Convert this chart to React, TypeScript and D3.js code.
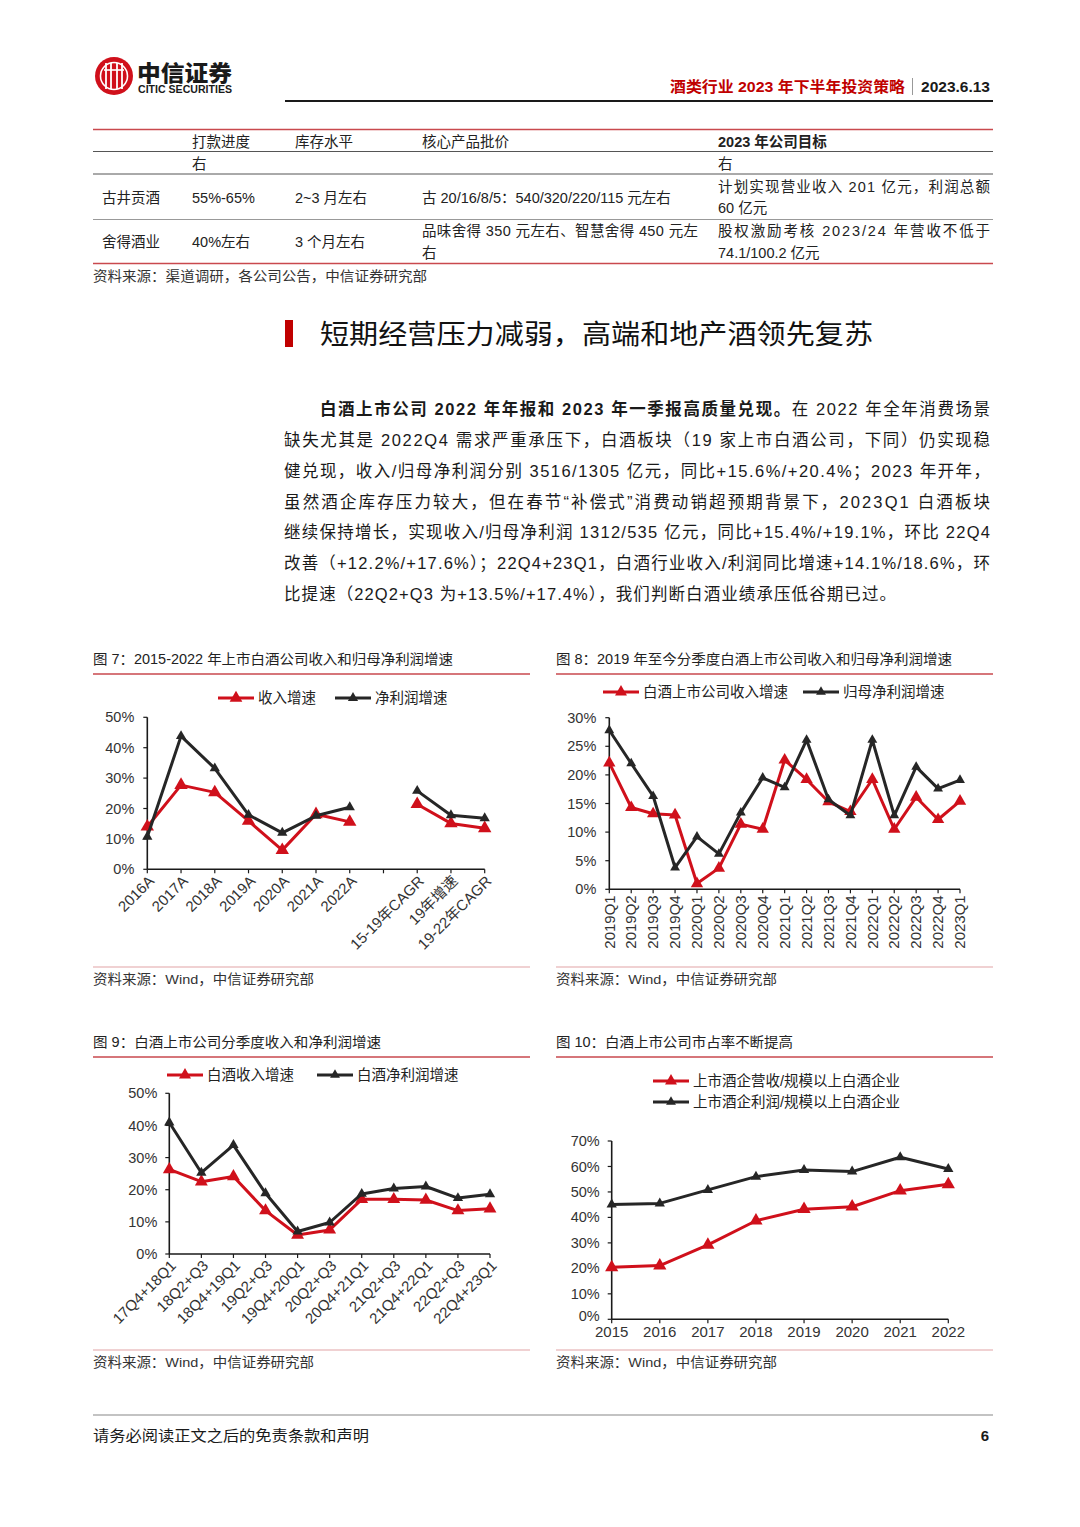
import React from 'react';
import * as d3 from 'd3';

const FONT = "'Liberation Sans', Arial, 'Noto Sans CJK SC', sans-serif";
const CJK = "'Noto Sans CJK SC', 'Liberation Sans', sans-serif";
const RED = '#d0101b';
const DARK = '#262626';
const TXT = '#222';

// ---- chart 7 ----
const c7Cats = ['2016A', '2017A', '2018A', '2019A', '2020A', '2021A', '2022A', '', '15-19年CAGR', '19年增速', '19-22年CAGR'];
const c7Rev = [14.0, 27.7, 25.3, 15.9, 6.3, 18.1, 15.6, null, 21.4, 15.1, 13.5];
const c7Profit = [10.7, 43.8, 33.2, 17.9, 12.0, 17.6, 20.4, null, 25.8, 17.8, 16.8];

// ---- chart 8 ----
const c8Cats = ['2019Q1', '2019Q2', '2019Q3', '2019Q4', '2020Q1', '2020Q2', '2020Q3', '2020Q4', '2021Q1', '2021Q2', '2021Q3', '2021Q4', '2022Q1', '2022Q2', '2022Q3', '2022Q4', '2023Q1'];
const c8Rev = [22.1, 14.3, 13.2, 13.0, 1.0, 3.7, 11.4, 10.5, 22.6, 19.2, 15.3, 13.6, 19.2, 10.5, 16.1, 12.2, 15.4];
const c8Profit = [27.8, 22.0, 16.3, 3.8, 9.2, 6.2, 13.4, 19.5, 17.8, 26.1, 15.7, 12.9, 26.1, 12.9, 21.4, 17.6, 19.1];

// ---- chart 9 ----
const c9Cats = ['17Q4+18Q1', '18Q2+Q3', '18Q4+19Q1', '19Q2+Q3', '19Q4+20Q1', '20Q2+Q3', '20Q4+21Q1', '21Q2+Q3', '21Q4+22Q1', '22Q2+Q3', '22Q4+23Q1'];
const c9Rev = [26.3, 22.5, 24.1, 13.5, 5.9, 7.5, 17.0, 17.0, 16.8, 13.5, 14.1];
const c9Profit = [40.9, 25.3, 33.9, 18.9, 7.0, 9.8, 18.7, 20.4, 21.0, 17.4, 18.6];

// ---- chart 10 ----
const c10Cats = ['2015', '2016', '2017', '2018', '2019', '2020', '2021', '2022'];
const c10Rev = [20.4, 21.1, 29.2, 38.7, 43.2, 44.2, 50.5, 53.0];
const c10Profit = [45.1, 45.5, 50.8, 56.0, 58.6, 58.0, 63.6, 59.0];

const paraLines = [
  '缺失尤其是 2022Q4 需求严重承压下，白酒板块（19 家上市白酒公司，下同）仍实现稳',
  '健兑现，收入/归母净利润分别 3516/1305 亿元，同比+15.6%/+20.4%；2023 年开年，',
  '虽然酒企库存压力较大，但在春节“补偿式”消费动销超预期背景下，2023Q1 白酒板块',
  '继续保持增长，实现收入/归母净利润 1312/535 亿元，同比+15.4%/+19.1%，环比 22Q4',
  '改善（+12.2%/+17.6%）；22Q4+23Q1，白酒行业收入/利润同比增速+14.1%/18.6%，环',
];
const paraLast = '比提速（22Q2+Q3 为+13.5%/+17.4%），我们判断白酒业绩承压低谷期已过。';

type Val = number | null;

interface ChartProps {
  cats: string[];
  rev: Val[];
  profit: Val[];
  x0: number;
  x1: number;
  y0: number;
  yTop: number;
  yMax: number;
  yStep: number;
  labelMode: 'rot45' | 'rot90' | 'flat';
  yGap: number;
  redSize: number;
  blackSize: number;
  fontSize?: number;
}

const tri = (size: number) => d3.symbol().type(d3.symbolTriangle).size(size)() || '';

const LineChart: React.FC<ChartProps> = ({
  cats, rev, profit, x0, x1, y0, yTop, yMax, yStep, labelMode, yGap, redSize, blackSize, fontSize = 14,
}) => {
  const x = d3.scalePoint<string>().domain(cats.map((_, i) => String(i))).range([x0, x1]);
  const y = d3.scaleLinear().domain([0, yMax]).range([y0, yTop]);
  const line = d3.line<Val>()
    .defined(d => d != null)
    .x((_d, i) => x(String(i)) as number)
    .y(d => y(d as number));
  const yTicks = d3.range(0, yMax + 0.001, yStep);

  const series = [
    { data: rev, color: RED, size: redSize },
    { data: profit, color: DARK, size: blackSize },
  ];

  return (
    <g fontFamily={FONT}>
      {/* y axis */}
      <line x1={x0} x2={x0} y1={yTop} y2={y0} stroke="#1a1a1a" strokeWidth={1.6} />
      {yTicks.map(t => (
        <g key={t}>
          <line x1={x0 - 4} x2={x0} y1={y(t)} y2={y(t)} stroke="#1a1a1a" strokeWidth={1.2} />
          <text x={x0 - yGap} y={y(t) - (labelMode === 'flat' && t === 0 ? 3 : 0)} dy="0.35em" textAnchor="end" fontSize={14.5} fill="#333">{t}%</text>
        </g>
      ))}
      {/* x axis */}
      <line x1={x0} x2={x1} y1={y0} y2={y0} stroke="#1a1a1a" strokeWidth={1.6} />
      {cats.map((c, i) => {
        const cx = x(String(i)) as number;
        let label: React.ReactNode = null;
        if (labelMode === 'rot45') {
          label = (
            <text transform={`translate(${cx + 4},${y0 + 9}) rotate(-45)`} dy="0.35em" textAnchor="end" fontSize={fontSize} fill="#333">{c}</text>
          );
        } else if (labelMode === 'rot90') {
          label = (
            <text transform={`translate(${cx},${y0 + 6}) rotate(-90)`} dy="0.35em" textAnchor="end" fontSize={fontSize} fill="#333">{c}</text>
          );
        } else {
          label = (
            <text x={cx} y={y0 + 18} textAnchor="middle" fontSize={fontSize} fill="#333">{c}</text>
          );
        }
        return (
          <g key={i}>
            <line x1={cx} x2={cx} y1={y0} y2={y0 + 4} stroke="#1a1a1a" strokeWidth={1.2} />
            {label}
          </g>
        );
      })}
      {/* series */}
      {series.map((s, si) => (
        <g key={si}>
          <path d={line(s.data) || ''} fill="none" stroke={s.color} strokeWidth={3} strokeLinejoin="round" />
          {s.data.map((v, i) => v == null ? null : (
            <path key={i} d={tri(s.size)} transform={`translate(${x(String(i))},${y(v)})`} fill={s.color} />
          ))}
        </g>
      ))}
    </g>
  );
};

const LegendItem: React.FC<{ x: number; y: number; color: string; label: string; size: number }> = ({ x, y, color, label, size }) => (
  <g fontFamily={FONT}>
    <line x1={x} x2={x + 36} y1={y} y2={y} stroke={color} strokeWidth={3} />
    <path d={tri(size)} transform={`translate(${x + 18},${y})`} fill={color} />
    <text x={x + 40} y={y} dy="0.36em" fontSize={14.5} fill={TXT}>{label}</text>
  </g>
);

const ChartFrame: React.FC<{ x: number; w: number; titleY: number; srcY: number; title: string; titleLen: number }> = ({ x, w, titleY, srcY, title, titleLen }) => (
  <g fontFamily={FONT}>
    <text x={x} y={titleY} fontSize={14} fill={TXT} textLength={titleLen} lengthAdjust="spacingAndGlyphs">{title}</text>
    <line x1={x} x2={x + w} y1={titleY + 10} y2={titleY + 10} stroke="#c9494e" strokeWidth={1.3} />
    <line x1={x} x2={x + w} y1={srcY - 12} y2={srcY - 12} stroke="#e2a3a5" strokeWidth={1.2} />
    <text x={x} y={srcY + 5} fontSize={13.5} fill="#333" textLength={221} lengthAdjust="spacingAndGlyphs">资料来源：Wind，中信证券研究部</text>
  </g>
);

const App: React.FC = () => {
  const W = 1080;
  const H = 1527;
  return (
    <div style={{ position: 'absolute', left: 0, top: 0, width: W, height: H, background: '#fff' }}>
      <svg width={W} height={H} viewBox={`0 0 ${W} ${H}`} style={{ display: 'block' }}>
        <rect width={W} height={H} fill="#fff" />

        {/* --- header --- */}
        <g>
          <circle cx={114} cy={76} r={19} fill={RED} />
          <circle cx={114} cy={76} r={13.5} fill="none" stroke="#fff" strokeWidth={1.6} />
          {[106, 111, 117, 122].map(px => (
            <line key={px} x1={px} x2={px} y1={63} y2={89} stroke="#fff" strokeWidth={1.8} />
          ))}
          <line x1={104} x2={124} y1={70} y2={70} stroke="#fff" strokeWidth={1.6} />
          <text x={137} y={81} fontFamily={CJK} fontWeight={900} fontSize={22} fill="#1a1a1a" textLength={95} lengthAdjust="spacingAndGlyphs">中信证券</text>
          <text x={138} y={93} fontFamily={FONT} fontWeight={700} fontSize={10} fill="#1a1a1a" textLength={94} lengthAdjust="spacingAndGlyphs">CITIC SECURITIES</text>
          <text x={905} y={92} textAnchor="end" fontFamily={FONT} fontWeight={700} fontSize={15} fill="#c00000" textLength={235} lengthAdjust="spacingAndGlyphs">酒类行业 2023 年下半年投资策略</text>
          <line x1={912.5} x2={912.5} y1={78} y2={95} stroke="#999" strokeWidth={1} />
          <text x={921} y={92} fontFamily={FONT} fontWeight={700} fontSize={15} fill="#1a1a1a" textLength={69} lengthAdjust="spacingAndGlyphs">2023.6.13</text>
          <line x1={285} x2={993} y1={101} y2={101} stroke="#1a1a1a" strokeWidth={2.2} />
        </g>

        {/* --- table --- */}
        <g fontFamily={FONT} fontSize={14.5} fill="#222">
          <line x1={93} x2={993} y1={129.5} y2={129.5} stroke="#c9494e" strokeWidth={1.5} />
          <text x={192} y={147}>打款进度</text>
          <text x={295} y={147}>库存水平</text>
          <text x={422} y={147}>核心产品批价</text>
          <text x={718} y={147} fontWeight={700}>2023 年公司目标</text>
          <line x1={93} x2={993} y1={151.5} y2={151.5} stroke="#555" strokeWidth={1} />
          <text x={192} y={169}>右</text>
          <text x={718} y={169}>右</text>
          <line x1={93} x2={993} y1={174} y2={174} stroke="#555" strokeWidth={1} />
          <text x={102} y={203}>古井贡酒</text>
          <text x={192} y={203}>55%-65%</text>
          <text x={295} y={203}>2~3 月左右</text>
          <text x={422} y={203}>古 20/16/8/5：540/320/220/115 元左右</text>
          <text x={718} y={192} textLength={272} lengthAdjust="spacing">计划实现营业收入 201 亿元，利润总额</text>
          <text x={718} y={213}>60 亿元</text>
          <line x1={93} x2={993} y1={219.5} y2={219.5} stroke="#999" strokeWidth={1} />
          <text x={102} y={247}>舍得酒业</text>
          <text x={192} y={247}>40%左右</text>
          <text x={295} y={247}>3 个月左右</text>
          <text x={422} y={236} textLength={276} lengthAdjust="spacing">品味舍得 350 元左右、智慧舍得 450 元左</text>
          <text x={422} y={258}>右</text>
          <text x={718} y={236} textLength={272} lengthAdjust="spacing">股权激励考核 2023/24 年营收不低于</text>
          <text x={718} y={258}>74.1/100.2 亿元</text>
          <line x1={93} x2={993} y1={263.5} y2={263.5} stroke="#c9494e" strokeWidth={1.5} />
          <text x={93} y={281} fontSize={13.5} fill="#333" textLength={334} lengthAdjust="spacingAndGlyphs">资料来源：渠道调研，各公司公告，中信证券研究部</text>
        </g>

        {/* --- section heading --- */}
        <rect x={285} y={320} width={8} height={27} fill="#c00000" />
        <text x={320} y={344} fontFamily={FONT} fontSize={27} fill="#111" textLength={553} lengthAdjust="spacingAndGlyphs">短期经营压力减弱，高端和地产酒领先复苏</text>

        {/* --- paragraph --- */}
        <g fontFamily={FONT} fontSize={16.5} fill="#1a1a1a">
          <text x={320} y={415} textLength={670} lengthAdjust="spacing">
            <tspan fontWeight={700}>白酒上市公司 2022 年年报和 2023 年一季报高质量兑现。</tspan>
            <tspan>在 2022 年全年消费场景</tspan>
          </text>
          {paraLines.map((l, i) => (
            <text key={i} x={284} y={446 + i * 30.8} textLength={706} lengthAdjust="spacing">{l}</text>
          ))}
          <text x={284} y={600} textLength={612} lengthAdjust="spacing">{paraLast}</text>
        </g>

        {/* --- chart 7 --- */}
        <ChartFrame x={93} w={437} titleY={664} srcY={979} title="图 7：2015-2022 年上市白酒公司收入和归母净利润增速" titleLen={360} />
        <LegendItem x={218} y={698} color={RED} label="收入增速" size={70} />
        <LegendItem x={335} y={698} color={DARK} label="净利润增速" size={45} />
        <LineChart cats={c7Cats} rev={c7Rev} profit={c7Profit}
          x0={147.3} x1={484.7} y0={869.3} yTop={717.3} yMax={50} yStep={10}
          labelMode="rot45" yGap={13} redSize={78} blackSize={46} fontSize={15} />

        {/* --- chart 8 --- */}
        <ChartFrame x={556} w={437} titleY={664} srcY={979} title="图 8：2019 年至今分季度白酒上市公司收入和归母净利润增速" titleLen={396} />
        <LegendItem x={603} y={692} color={RED} label="白酒上市公司收入增速" size={62} />
        <LegendItem x={803} y={692} color={DARK} label="归母净利润增速" size={42} />
        <LineChart cats={c8Cats} rev={c8Rev} profit={c8Profit}
          x0={609.3} x1={960} y0={889.3} yTop={717.7} yMax={30} yStep={5}
          labelMode="rot90" yGap={13} redSize={66} blackSize={42} fontSize={15} />

        {/* --- chart 9 --- */}
        <ChartFrame x={93} w={437} titleY={1047} srcY={1362} title="图 9：白酒上市公司分季度收入和净利润增速" titleLen={288} />
        <LegendItem x={167} y={1075} color={RED} label="白酒收入增速" size={62} />
        <LegendItem x={317} y={1075} color={DARK} label="白酒净利润增速" size={42} />
        <LineChart cats={c9Cats} rev={c9Rev} profit={c9Profit}
          x0={169.3} x1={490} y0={1254} yTop={1093.3} yMax={50} yStep={10}
          labelMode="rot45" yGap={12} redSize={72} blackSize={46} fontSize={15} />

        {/* --- chart 10 --- */}
        <ChartFrame x={556} w={437} titleY={1047} srcY={1362} title="图 10：白酒上市公司市占率不断提高" titleLen={237} />
        <LegendItem x={653} y={1081} color={RED} label="上市酒企营收/规模以上白酒企业" size={62} />
        <LegendItem x={653} y={1102} color={DARK} label="上市酒企利润/规模以上白酒企业" size={42} />
        <LineChart cats={c10Cats} rev={c10Rev} profit={c10Profit}
          x0={611.7} x1={948.3} y0={1319.3} yTop={1141} yMax={70} yStep={10}
          labelMode="flat" yGap={12} redSize={76} blackSize={46} fontSize={15} />

        {/* --- footer --- */}
        <line x1={93} x2={993} y1={1415} y2={1415} stroke="#888" strokeWidth={1.2} />
        <text x={93} y={1441} fontFamily={FONT} fontSize={15} fill="#1a1a1a" textLength={276} lengthAdjust="spacingAndGlyphs">请务必阅读正文之后的免责条款和声明</text>
        <text x={989} y={1441} textAnchor="end" fontFamily={FONT} fontWeight={700} fontSize={15} fill="#1a1a1a">6</text>
      </svg>
    </div>
  );
};

export default App;
